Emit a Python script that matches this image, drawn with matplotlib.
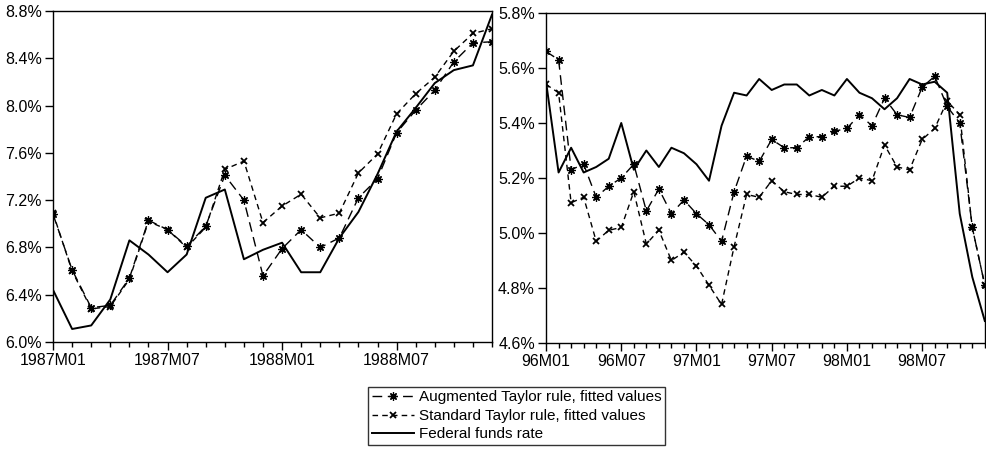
import matplotlib.pyplot as plt
import numpy as np
from matplotlib.ticker import FormatStrFormatter

plt.rcParams['font.family'] = ['Liberation Sans', 'DejaVu Sans']

# left panel: 1987M01 - 1988M12, monthly
left_labels = ['1987M01', '1987M07', '1988M01', '1988M07']
left_aug = [7.08, 6.61, 6.29, 6.31, 6.54, 7.03, 6.95, 6.81, 6.98, 7.41, 7.20, 6.56,
            6.79, 6.95, 6.80, 6.88, 7.22, 7.38, 7.77, 7.96, 8.13, 8.37, 8.53, 8.54]
left_std = [7.09, 6.60, 6.28, 6.30, 6.53, 7.02, 6.95, 6.80, 6.97, 7.46, 7.53, 7.01,
            7.15, 7.25, 7.05, 7.09, 7.43, 7.59, 7.93, 8.10, 8.24, 8.46, 8.61, 8.65]
left_ffr = [6.44, 6.11, 6.14, 6.36, 6.86, 6.74, 6.59, 6.74, 7.22, 7.29, 6.70, 6.78,
            6.84, 6.59, 6.59, 6.88, 7.10, 7.42, 7.78, 7.98, 8.19, 8.30, 8.34, 8.77]

# right panel: 96M01 - 98M12, monthly
right_labels = ['96M01', '96M07', '97M01', '97M07', '98M01', '98M07']
right_aug = [5.66, 5.63, 5.23, 5.25, 5.13, 5.17, 5.20, 5.25, 5.08, 5.16, 5.07, 5.12,
             5.07, 5.03, 4.97, 5.15, 5.28, 5.26, 5.34, 5.31, 5.31, 5.35, 5.35, 5.37,
             5.38, 5.43, 5.39, 5.49, 5.43, 5.42, 5.53, 5.57, 5.46, 5.40, 5.02, 4.81]
right_std = [5.54, 5.51, 5.11, 5.13, 4.97, 5.01, 5.02, 5.15, 4.96, 5.01, 4.90, 4.93,
             4.88, 4.81, 4.74, 4.95, 5.14, 5.13, 5.19, 5.15, 5.14, 5.14, 5.13, 5.17,
             5.17, 5.20, 5.19, 5.32, 5.24, 5.23, 5.34, 5.38, 5.48, 5.43, 5.02, 4.81]
right_ffr = [5.55, 5.22, 5.31, 5.22, 5.24, 5.27, 5.40, 5.23, 5.30, 5.24, 5.31, 5.29,
             5.25, 5.19, 5.39, 5.51, 5.50, 5.56, 5.52, 5.54, 5.54, 5.50, 5.52, 5.50,
             5.56, 5.51, 5.49, 5.45, 5.49, 5.56, 5.54, 5.55, 5.51, 5.07, 4.84, 4.68]

fig = plt.figure(figsize=(9.86, 4.51), dpi=100)
ax1 = fig.add_axes([0.0538, 0.2417, 0.4452, 0.7339])
ax2 = fig.add_axes([0.5538, 0.2395, 0.4450, 0.7317])


def draw(ax, aug, std, ffr, labels, ylim, ystep):
    x = np.arange(len(ffr))
    # asterisk-like marker for augmented rule
    l1, = ax.plot(x, aug, color='black', lw=1.0, dashes=(7, 4), marker=(8, 2, 0),
                  ms=6, mew=0.9, label='Augmented Taylor rule, fitted values')
    l2, = ax.plot(x, std, color='black', lw=1.0, dashes=(4, 3), marker='x',
                  ms=5, mew=1.3, label='Standard Taylor rule, fitted values')
    l3, = ax.plot(x, ffr, color='black', lw=1.4, label='Federal funds rate')
    ax.set_xlim(0, len(ffr) - 1)
    ax.set_ylim(*ylim)
    ax.set_yticks(np.arange(ylim[0], ylim[1] + 1e-9, ystep))
    ax.yaxis.set_major_formatter(FormatStrFormatter('%.1f%%'))
    ax.set_xticks(np.arange(0, len(ffr), 6))
    ax.set_xticklabels(labels)
    ax.set_xticks(x, minor=True)
    ax.tick_params(axis='both', which='major', labelsize=11.5, length=6,
                   width=1, direction='out', pad=2)
    ax.tick_params(axis='x', which='minor', length=3.5, width=1)
    for s in ax.spines.values():
        s.set_linewidth(1.0)
    return [l1, l2, l3]


handles = draw(ax1, left_aug, left_std, left_ffr, left_labels, (6.0, 8.8), 0.4)
draw(ax2, right_aug, right_std, right_ffr, right_labels, (4.6, 5.8), 0.2)

fig.legend(handles=handles, loc='upper center', bbox_to_anchor=(0.524, 0.143),
           fontsize=11, frameon=True, fancybox=False, edgecolor='black',
           handlelength=2.8, handletextpad=0.3, labelspacing=0.3,
           borderpad=0.25, borderaxespad=0)

fig.savefig('out.png', dpi=100)
